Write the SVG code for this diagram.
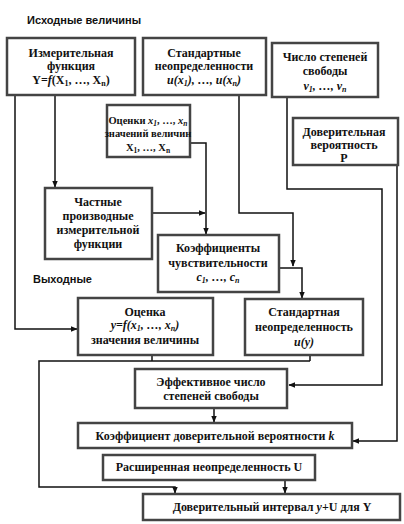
<svg xmlns="http://www.w3.org/2000/svg" width="404" height="524" viewBox="0 0 404 524">
<style>
.box{fill:#fff;stroke:#444;stroke-width:2.5}
.t{font-family:"Liberation Serif","Times New Roman",serif;font-weight:bold;font-size:12px;text-anchor:middle;fill:#111}
.s{font-size:10.5px}
.i{font-style:italic}
.lbl{font-family:"Liberation Sans",Arial,sans-serif;font-weight:bold;font-size:11px;fill:#111}
.c{fill:none;stroke:#111;stroke-width:1.5}
</style>
<defs>
<marker id="a" viewBox="0 0 10 10" refX="9" refY="5" markerWidth="7" markerHeight="7" markerUnits="userSpaceOnUse" orient="auto">
<path d="M0,1 L10,5 L0,9 Z" fill="#111"/>
</marker>
</defs>
<rect width="404" height="524" fill="#fff"/>
<text class="lbl" x="27" y="24">Исходные величины</text>
<text class="lbl" x="33" y="283">Выходные</text>

<g id="connectors">
<polyline class="c" points="15,95 15,329 77,329" marker-end="url(#a)"/>
<polyline class="c" points="55,95 55,187" marker-end="url(#a)"/>
<polyline class="c" points="189,143 206,143 206,234" marker-end="url(#a)"/>
<polyline class="c" points="152,213 205,213" marker-end="url(#a)"/>
<polyline class="c" points="239,95 239,213 293,213 293,266" marker-end="url(#a)"/>
<polyline class="c" points="279,268 302,268 302,298" marker-end="url(#a)"/>
<polyline class="c" points="287,97 287,189 382,189 382,385 289,385" marker-end="url(#a)"/>
<polyline class="c" points="397,165 397,441 353,441" marker-end="url(#a)"/>
<polyline class="c" points="152,355 152,361"/>
<polyline class="c" points="310,355 310,361"/>
<polyline class="c" points="310,361 39,361 39,487 175,487 175,493" marker-end="url(#a)"/>
<polyline class="c" points="214,408 214,422" marker-end="url(#a)"/>
<polyline class="c" points="285,480 285,493" marker-end="url(#a)"/>
</g>

<g id="n1">
<rect class="box" x="7" y="38" width="128" height="57"/>
<text class="t" x="71" y="57">Измерительная</text>
<text class="t" x="71" y="70">функция</text>
<text class="t" x="71" y="84">Y=<tspan class="i">f</tspan>(X<tspan font-size="8" dy="2">1</tspan><tspan dy="-2">, …, X</tspan><tspan font-size="8" dy="2">n</tspan><tspan dy="-2">)</tspan></text>
</g>

<g id="n2">
<rect class="box" x="143" y="38" width="123" height="57"/>
<text class="t" x="204" y="57">Стандартные</text>
<text class="t" x="204" y="70">неопределенности</text>
<text class="t i" x="204" y="84">u(x<tspan font-size="8" dy="2">1</tspan><tspan dy="-2">), …, u(x</tspan><tspan font-size="8" dy="2">n</tspan><tspan dy="-2">)</tspan></text>
</g>

<g id="n3">
<rect class="box" x="272" y="43" width="106" height="54"/>
<text class="t" x="325" y="61">Число степеней</text>
<text class="t" x="325" y="75">свободы</text>
<text class="t i" x="325" y="90" font-size="11">v<tspan font-size="8" dy="2">1</tspan><tspan dy="-2">, …, v</tspan><tspan font-size="8" dy="2">n</tspan></text>
</g>

<g id="n4">
<rect class="box" x="107" y="105" width="83" height="52"/>
<text class="t s" x="148" y="124">Оценки <tspan class="i">x</tspan><tspan class="i" font-size="7.5" dy="2">1</tspan><tspan dy="-2">, …, </tspan><tspan class="i">x</tspan><tspan class="i" font-size="7.5" dy="2">n</tspan></text>
<text class="t s" x="148" y="137">значений величин</text>
<text class="t s" x="148" y="151">X<tspan font-size="7.5" dy="2">1</tspan><tspan dy="-2">, …, X</tspan><tspan font-size="7.5" dy="2">n</tspan></text>
</g>

<g id="n5">
<rect class="box" x="293" y="118" width="105" height="47"/>
<text class="t" x="344" y="136" font-size="11">Доверительная</text>
<text class="t" x="344" y="149" font-size="11">вероятность</text>
<text class="t" x="344" y="162" font-size="11">P</text>
</g>

<g id="n6">
<rect class="box" x="45" y="188" width="107" height="71"/>
<text class="t" x="98" y="206">Частные</text>
<text class="t" x="98" y="220">производные</text>
<text class="t" x="98" y="234">измерительной</text>
<text class="t" x="98" y="248">функции</text>
</g>

<g id="n7">
<rect class="box" x="158" y="235" width="121" height="57"/>
<text class="t" x="218" y="252">Коэффициенты</text>
<text class="t" x="218" y="267">чувствительности</text>
<text class="t i" x="218" y="281" font-size="11">c<tspan font-size="8" dy="2">1</tspan><tspan dy="-2">, …, c</tspan><tspan font-size="8" dy="2">n</tspan></text>
</g>

<g id="n8">
<rect class="box" x="78" y="298" width="135" height="57"/>
<text class="t" x="145" y="316">Оценка</text>
<text class="t i" x="145" y="329">y=f(x<tspan font-size="8" dy="2">1</tspan><tspan dy="-2">, …, x</tspan><tspan font-size="8" dy="2">n</tspan><tspan dy="-2">)</tspan></text>
<text class="t" x="145" y="344">значения величины</text>
</g>

<g id="n9">
<rect class="box" x="245" y="299" width="118" height="56"/>
<text class="t" x="304" y="316">Стандартная</text>
<text class="t" x="304" y="331">неопределенность</text>
<text class="t i" x="304" y="346">u(y)</text>
</g>

<g id="n10">
<rect class="box" x="135" y="369" width="152" height="39"/>
<text class="t" x="211" y="386">Эффективное число</text>
<text class="t" x="211" y="400">степеней свободы</text>
</g>

<g id="n11">
<rect class="box" x="78" y="423" width="274" height="25"/>
<text class="t" x="215" y="440">Коэффициент доверительной вероятности <tspan class="i">k</tspan></text>
</g>

<g id="n12">
<rect class="box" x="103" y="455" width="212" height="25"/>
<text class="t" x="209" y="471">Расширенная неопределенность U</text>
</g>

<g id="n13">
<rect class="box" x="143" y="494" width="257" height="26"/>
<text class="t" x="272" y="511">Доверительный интервал <tspan class="i">y</tspan>+U для Y</text>
</g>
</svg>
